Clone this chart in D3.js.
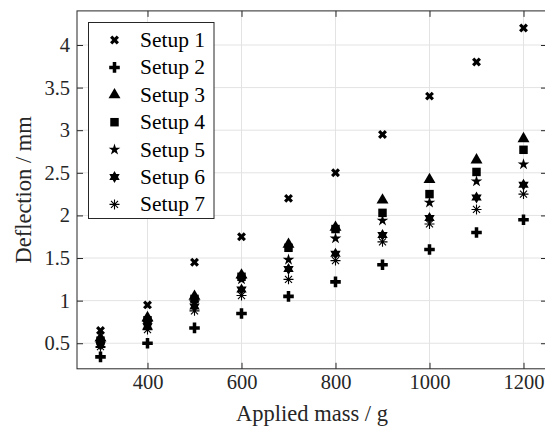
<!DOCTYPE html>
<html><head><meta charset="utf-8">
<script src="https://cdn.jsdelivr.net/npm/d3@7"></script>
<style>body{margin:0;background:#fff}svg{display:block}</style>
</head><body>
<svg id="c" width="545" height="432"></svg>
<script>
const masses = [300,400,500,600,700,800,900,1000,1100,1200];
const setup1 = [0.65,0.95,1.45,1.75,2.20,2.50,2.95,3.40,3.80,4.20];
const setup2 = [0.34,0.50,0.68,0.85,1.05,1.22,1.42,1.60,1.80,1.95];
const setup3 = [0.56,0.80,1.05,1.30,1.66,1.86,2.18,2.42,2.65,2.90];
const setup4 = [0.53,0.77,1.02,1.28,1.62,1.84,2.03,2.25,2.51,2.77];
const setup5 = [0.51,0.74,0.98,1.25,1.48,1.73,1.94,2.15,2.40,2.60];
const setup6 = [0.48,0.70,0.93,1.13,1.37,1.55,1.77,1.97,2.21,2.36];
const setup7 = [0.46,0.66,0.88,1.06,1.25,1.47,1.69,1.90,2.07,2.25];
const seriesNames = ["Setup 1","Setup 2","Setup 3","Setup 4","Setup 5","Setup 6","Setup 7"];
const xTicks = [400,600,800,1000,1200];
const yTicks = [0.5,1,1.5,2,2.5,3,3.5,4];

const series = [setup1,setup2,setup3,setup4,setup5,setup6,setup7];
const ink = "#000";
const axisCol = "#262626";
const font = "'Liberation Serif','Times New Roman',serif";

const svg = d3.select("#c");
const x = d3.scaleLinear([250,1250],[77,547]);
const y = d3.scaleLinear([0.2,4.4],[368.8,10.9]);
const [x0,x1] = x.range(), [y0,y1] = y.range();

// custom symbol types
const hexagram = {draw(ctx,size){
  const r = Math.sqrt(size)*0.75, ri = r/Math.sqrt(3);
  for(let i=0;i<12;i++){
    const a = -Math.PI/2 + i*Math.PI/6, rr = i%2? ri : r;
    const px = rr*Math.cos(a), py = rr*Math.sin(a);
    i? ctx.lineTo(px,py) : ctx.moveTo(px,py);
  }
  ctx.closePath();
}};
const asterisk = {draw(ctx,size){
  const r = Math.sqrt(size)/2;
  for(let i=0;i<4;i++){
    const a = i*Math.PI/4, c = r*Math.cos(a), s = r*Math.sin(a);
    ctx.moveTo(-c,-s); ctx.lineTo(c,s);
  }
}};
const styles = [
  {type:d3.symbolCross, size:50, rot:45, fill:true},
  {type:d3.symbolCross, size:62, rot:0, fill:true},
  {type:d3.symbolTriangle, size:62, rot:0, fill:true},
  {type:d3.symbolSquare, size:72, rot:0, fill:true},
  {type:d3.symbolStar, size:42, rot:0, fill:true},
  {type:hexagram, size:64, rot:0, fill:true},
  {type:asterisk, size:100, rot:0, fill:false}
];
function drawMark(sel, st){
  sel.attr("d", d3.symbol().type(st.type).size(st.size)())
     .attr("fill", st.fill? ink : "none")
     .attr("stroke", st.fill? "none" : ink)
     .attr("stroke-width", st.fill? 0 : 1.1);
}

// grid
const g = svg.append("g");
g.selectAll(".gx").data(xTicks).join("line")
  .attr("x1",d=>x(d)).attr("x2",d=>x(d)).attr("y1",y0).attr("y2",y1)
  .attr("stroke","#e3e3e3").attr("stroke-width",1);
g.selectAll(".gy").data(yTicks).join("line")
  .attr("y1",d=>y(d)).attr("y2",d=>y(d)).attr("x1",x0).attr("x2",x1)
  .attr("stroke","#e3e3e3").attr("stroke-width",1);

// axes
function styleAxis(a){
  a.select(".domain").remove();
  a.selectAll("line").attr("stroke",axisCol);
  a.selectAll("text").attr("fill",axisCol).style("font-family",font).style("font-size","20.5px");
}
svg.append("g").attr("transform",`translate(0,${y0})`)
  .call(d3.axisBottom(x).tickValues(xTicks).tickFormat(d=>String(d)).tickSize(-6).tickPadding(6))
  .call(styleAxis);
svg.append("g").attr("transform",`translate(0,${y1})`)
  .call(d3.axisTop(x).tickValues(xTicks).tickFormat("").tickSize(-6))
  .call(styleAxis);
svg.append("g").attr("transform",`translate(${x0},0)`)
  .call(d3.axisLeft(y).tickValues(yTicks).tickFormat(d=>String(d)).tickSize(-6).tickPadding(7))
  .call(styleAxis);
svg.append("g").attr("transform",`translate(${x1},0)`)
  .call(d3.axisRight(y).tickValues(yTicks).tickFormat("").tickSize(-6))
  .call(styleAxis);
svg.append("rect").attr("x",x0).attr("y",y1).attr("width",x1-x0).attr("height",y0-y1)
  .attr("fill","none").attr("stroke",axisCol).attr("stroke-width",1);

// data
series.forEach((vals,i)=>{
  const st = styles[i];
  svg.append("g").selectAll("path").data(vals).join("path")
    .attr("transform",(v,j)=>`translate(${x(masses[j])},${y(v)}) rotate(${st.rot})`)
    .call(drawMark, st);
});

// labels
svg.append("text").attr("x",(x0+x1)/2).attr("y",421).attr("text-anchor","middle")
  .attr("fill",axisCol).style("font-family",font).style("font-size","22.5px").text("Applied mass / g");
svg.append("text").attr("transform",`translate(31,${(y0+y1)/2}) rotate(-90)`).attr("text-anchor","middle")
  .attr("fill",axisCol).style("font-family",font).style("font-size","22.5px").text("Deflection / mm");

// legend
const lg = svg.append("g");
lg.append("rect").attr("x",88.5).attr("y",22.5).attr("width",125.5).attr("height",196)
  .attr("fill","#fff").attr("stroke",axisCol).attr("stroke-width",1);
seriesNames.forEach((nm,i)=>{
  const cy = 40 + i*27.4;
  lg.append("path").attr("transform",`translate(114.5,${cy}) rotate(${styles[i].rot})`).call(drawMark, styles[i]);
  lg.append("text").attr("x",140).attr("y",cy+7).attr("fill",ink)
    .style("font-family",font).style("font-size","21.5px").text(nm);
});
</script>
</body></html>
